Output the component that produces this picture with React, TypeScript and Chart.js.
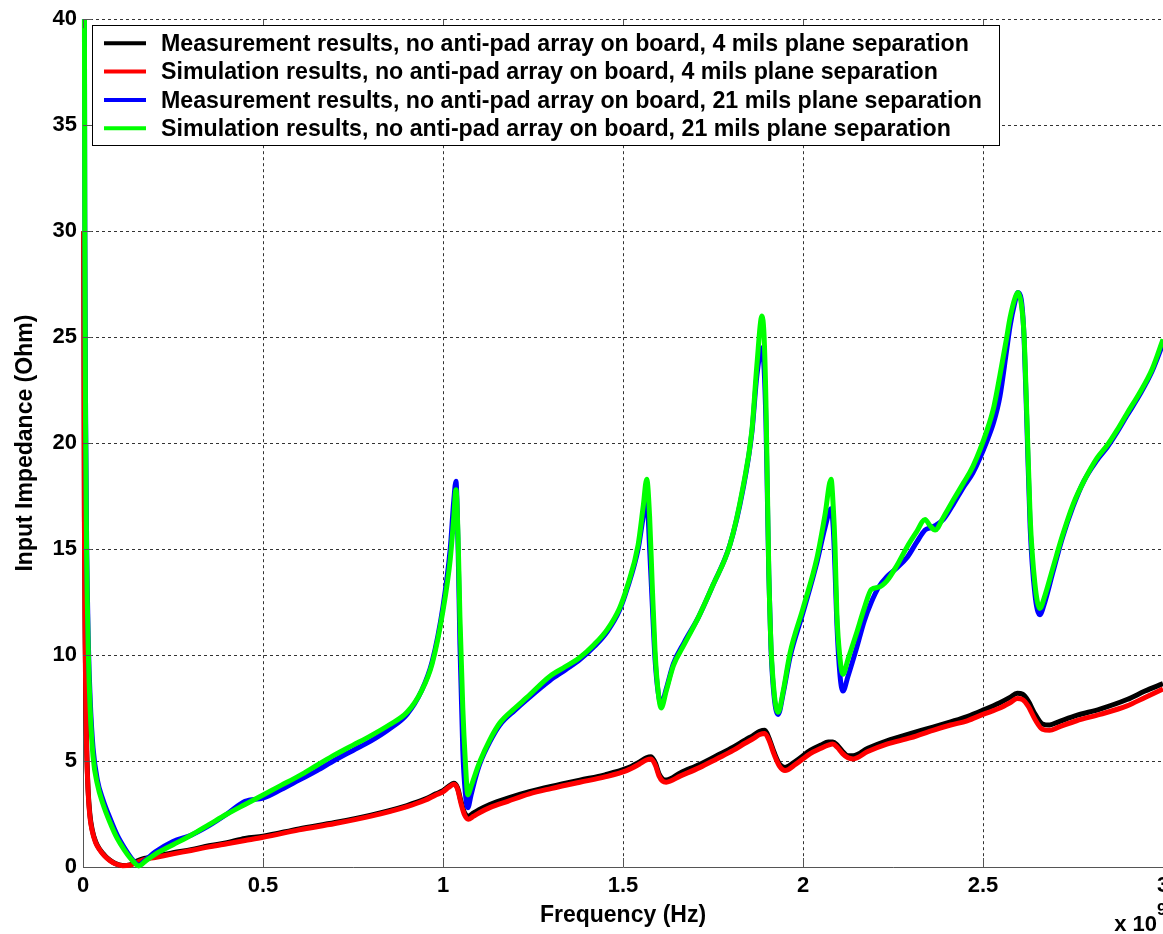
import React, { useEffect, useRef } from "react";
import { Chart, registerables } from "chart.js";

Chart.register(...registerables);

// Frequency samples (GHz) for the 4 mils plane-separation curves
const freq4mil = [
  0.002, 0.004, 0.006, 0.008, 0.01, 0.014, 0.019, 0.025, 0.035, 0.047, 0.06, 0.075, 0.09, 0.11, 0.13, 0.15,
  0.17, 0.2, 0.25, 0.3, 0.35, 0.4, 0.45, 0.5, 0.6, 0.7, 0.8, 0.9, 0.95, 0.98, 1.0, 1.015, 1.03, 1.04, 1.05,
  1.06, 1.07, 1.085, 1.1, 1.13, 1.18, 1.24, 1.3, 1.38, 1.45, 1.51, 1.545, 1.565, 1.578, 1.59, 1.6, 1.61, 1.62,
  1.66, 1.714, 1.76, 1.806, 1.84, 1.861, 1.88, 1.894, 1.905, 1.92, 1.935, 1.95, 1.98, 2.02, 2.05, 2.07, 2.083,
  2.095, 2.11, 2.125, 2.139, 2.18, 2.233, 2.3, 2.361, 2.41, 2.456, 2.5, 2.547, 2.575, 2.595, 2.61, 2.625,
  2.645, 2.665, 2.685, 2.71, 2.76, 2.825, 2.9, 2.95, 3.0,
];

// Measured input impedance (Ohm), 4 mils
const meas4mil = [
  30, 16.5, 11, 7.8, 5.8, 3.7, 2.5, 1.8, 1.2, 0.82, 0.55, 0.32, 0.16, 0.07, 0.1, 0.28,
  0.4, 0.5, 0.68, 0.82, 1.0, 1.15, 1.35, 1.45, 1.8, 2.1, 2.45, 2.9, 3.2, 3.45, 3.6, 3.8, 3.95, 3.75, 3.1,
  2.55, 2.4, 2.55, 2.7, 2.95, 3.25, 3.55, 3.8, 4.1, 4.35, 4.65, 4.95, 5.15, 5.2, 4.9, 4.4, 4.15, 4.1,
  4.45, 4.85, 5.25, 5.65, 6.0, 6.2, 6.4, 6.45, 6.1, 5.4, 4.85, 4.7, 5.0, 5.5, 5.75, 5.9, 5.9,
  5.75, 5.45, 5.25, 5.25, 5.6, 5.95, 6.3, 6.6, 6.85, 7.1, 7.4, 7.75, 8.0, 8.2, 8.15, 7.85,
  7.2, 6.75, 6.7, 6.85, 7.15, 7.45, 7.9, 8.3, 8.65,
];

// Simulated input impedance (Ohm), 4 mils
const sim4mil = [
  30, 16, 10.5, 7.5, 5.6, 3.6, 2.4, 1.75, 1.15, 0.8, 0.52, 0.3, 0.15, 0.06, 0.08, 0.22,
  0.35, 0.45, 0.62, 0.78, 0.95, 1.1, 1.25, 1.4, 1.75, 2.05, 2.4, 2.85, 3.15, 3.4, 3.55, 3.75, 3.9, 3.7, 3.0,
  2.45, 2.25, 2.4, 2.55, 2.8, 3.1, 3.45, 3.7, 4.0, 4.25, 4.55, 4.85, 5.05, 5.1, 4.8, 4.3, 4.05, 4.0,
  4.3, 4.7, 5.1, 5.5, 5.85, 6.05, 6.25, 6.3, 6.0, 5.3, 4.75, 4.55, 4.85, 5.35, 5.6, 5.75, 5.8,
  5.65, 5.35, 5.15, 5.1, 5.45, 5.8, 6.1, 6.45, 6.7, 6.9, 7.2, 7.5, 7.75, 7.95, 7.9, 7.6,
  6.95, 6.5, 6.45, 6.6, 6.9, 7.2, 7.6, 8.0, 8.4,
];

// Frequency samples (GHz) for the 21 mils plane-separation curves
const freq21mil = [
  0.003, 0.005, 0.007, 0.01, 0.015, 0.02, 0.028, 0.04, 0.055, 0.075, 0.095, 0.115, 0.135, 0.155, 0.175, 0.2,
  0.25, 0.3, 0.35, 0.4, 0.45, 0.5, 0.55, 0.6, 0.65, 0.7, 0.75, 0.8, 0.85, 0.9, 0.94, 0.97, 1.0, 1.02, 1.03,
  1.036, 1.042, 1.047, 1.055, 1.062, 1.069, 1.078, 1.09, 1.103, 1.13, 1.158, 1.2, 1.233, 1.297, 1.34, 1.381,
  1.42, 1.456, 1.49, 1.511, 1.542, 1.556, 1.566, 1.574, 1.581, 1.589, 1.598, 1.606, 1.62, 1.64, 1.67, 1.71,
  1.75, 1.797, 1.833, 1.858, 1.872, 1.886, 1.892, 1.897, 1.901, 1.905, 1.911, 1.92, 1.931, 1.945, 1.964, 2.0,
  2.039, 2.061, 2.078, 2.084, 2.089, 2.094, 2.103, 2.111, 2.125, 2.15, 2.17, 2.19, 2.21, 2.233, 2.26, 2.289,
  2.315, 2.339, 2.353, 2.367, 2.39, 2.417, 2.445, 2.472, 2.511, 2.53, 2.547, 2.565, 2.575, 2.588, 2.597,
  2.606, 2.614, 2.622, 2.631, 2.644, 2.658, 2.67, 2.694, 2.72, 2.75, 2.78, 2.817, 2.845, 2.872, 2.9, 2.936,
  2.97, 3.0,
];

// Measured input impedance (Ohm), 21 mils
const meas21mil = [
  50, 31, 22, 15.5, 10.5, 7.9, 5.6, 4.1, 3.2, 2.3, 1.5, 0.9, 0.4, 0.1, 0.35, 0.7,
  1.2, 1.5, 1.95, 2.5, 3.1, 3.25, 3.65, 4.1, 4.55, 5.05, 5.5, 5.95, 6.5, 7.2, 8.3, 9.7, 12.3, 15.0, 17.3,
  18.2, 15.0, 10.5, 5.5, 3.5, 2.8, 3.4, 4.2, 4.9, 5.9, 6.7, 7.4, 7.9, 8.8, 9.3, 9.8,
  10.4, 11.1, 12.1, 13.1, 15.0, 16.5, 17.4, 15.0, 12.5, 9.8, 8.2, 7.7, 8.4, 9.6, 10.6, 11.8,
  13.3, 15.2, 17.8, 20.5, 23.2, 24.5, 23.5, 21.0, 17.5, 13.8, 10.3, 8.0, 7.2, 8.2, 9.9, 12.0,
  14.4, 16.0, 16.9, 16.0, 14.0, 11.5, 9.0, 8.3, 9.0, 10.4, 11.6, 12.5, 13.2, 13.7, 14.1, 14.6,
  15.3, 15.9, 16.0, 16.1, 16.4, 17.1, 17.9, 18.6, 20.1, 21.0, 22.2, 24.3, 25.5, 26.6, 27.1,
  26.8, 25.0, 20.8, 16.0, 12.9, 11.9, 12.4, 13.9, 15.5, 17.0, 18.2, 19.2, 19.8, 20.5, 21.3, 22.3,
  23.4, 24.7,
];

// Simulated input impedance (Ohm), 21 mils
const sim21mil = [
  50, 30, 21, 14.8, 10, 7.4, 5.2, 3.9, 3.0, 2.1, 1.35, 0.8, 0.35, 0.05, 0.3, 0.6,
  1.05, 1.5, 2.0, 2.5, 2.95, 3.4, 3.85, 4.3, 4.8, 5.3, 5.75, 6.2, 6.7, 7.3, 8.3, 9.6, 12.1, 14.5, 16.5,
  17.8, 15.5, 11.8, 7.5, 5.0, 3.4, 3.8, 4.4, 5.0, 6.0, 6.8, 7.5, 8.0, 9.0, 9.45, 9.9,
  10.5, 11.2, 12.2, 13.2, 15.2, 17.0, 18.3, 16.5, 13.4, 10.2, 8.2, 7.5, 8.3, 9.5, 10.5, 11.8,
  13.3, 15.2, 17.9, 20.6, 23.7, 26.0, 25.0, 22.0, 18.0, 14.0, 10.5, 8.2, 7.3, 8.3, 10.1, 12.2,
  14.6, 16.6, 18.3, 17.0, 15.1, 12.0, 9.8, 9.1, 9.8, 11.1, 12.2, 13.1, 13.2, 13.5, 14.2, 15.1,
  15.8, 16.4, 16.1, 15.9, 16.5, 17.3, 18.1, 18.9, 20.6, 21.7, 23.2, 24.9, 25.9, 26.8, 27.1,
  26.6, 25.1, 21.2, 16.5, 13.4, 12.2, 12.7, 14.1, 15.6, 17.1, 18.2, 19.3, 19.9, 20.6, 21.4, 22.4,
  23.5, 24.9,
];

const seriesLabels = [
  "Measurement results, no anti-pad array on board, 4 mils plane separation",
  "Simulation results, no anti-pad array on board, 4 mils plane separation",
  "Measurement results, no anti-pad array on board, 21 mils plane separation",
  "Simulation results, no anti-pad array on board, 21 mils plane separation",
];
const seriesColors = ["#000000", "#ff0000", "#0000ff", "#00ff00"];

const xTickValues = [0, 0.5, 1, 1.5, 2, 2.5, 3];
const yTickValues = [0, 5, 10, 15, 20, 25, 30, 35, 40];

const FONT = '"Liberation Sans", Arial, Helvetica, sans-serif';

const toPoints = (xs: number[], ys: number[]) => xs.map((x, i) => ({ x, y: ys[i] }));

// MATLAB-style inward tick marks on the axes
const inwardTicks = {
  id: "inwardTicks",
  afterDatasetsDraw(chart: any) {
    const { ctx, chartArea, scales } = chart;
    ctx.save();
    ctx.strokeStyle = "#555";
    ctx.lineWidth = 1;
    ctx.beginPath();
    for (const v of xTickValues) {
      const px = Math.round(scales.x.getPixelForValue(v)) + 0.5;
      ctx.moveTo(px, chartArea.bottom);
      ctx.lineTo(px, chartArea.bottom - 9);
      ctx.moveTo(px, chartArea.top);
      ctx.lineTo(px, chartArea.top + 9);
    }
    for (const v of yTickValues) {
      const py = Math.round(scales.y.getPixelForValue(v)) + 0.5;
      ctx.moveTo(chartArea.left, py);
      ctx.lineTo(chartArea.left + 9, py);
    }
    ctx.stroke();
    ctx.restore();
  },
};

// Boxed legend inside the axes, plus the axis multiplier label
const boxedLegend = {
  id: "boxedLegend",
  afterDraw(chart: any) {
    const { ctx } = chart;
    const left = 92;
    const top = 25;
    const right = 1000;
    const bottom = 146;
    ctx.save();
    ctx.fillStyle = "#ffffff";
    ctx.fillRect(left, top, right - left, bottom - top);
    ctx.strokeStyle = "#000";
    ctx.lineWidth = 1;
    ctx.strokeRect(left + 0.5, top + 0.5, right - left - 1, bottom - top - 1);
    ctx.font = `bold 23.2px ${FONT}`;
    ctx.textBaseline = "alphabetic";
    ctx.textAlign = "left";
    seriesLabels.forEach((label, i) => {
      const baseline = 51 + i * 28.3;
      const ly = baseline - 7.7;
      ctx.strokeStyle = seriesColors[i];
      ctx.lineWidth = 4;
      ctx.beginPath();
      ctx.moveTo(104, ly);
      ctx.lineTo(146, ly);
      ctx.stroke();
      ctx.fillStyle = "#000";
      ctx.fillText(label, 161, baseline);
    });
    // "x 10^9" exponent label under the right end of the frequency axis
    ctx.fillStyle = "#000";
    ctx.textAlign = "right";
    ctx.font = `bold 22px ${FONT}`;
    ctx.fillText("x 10", 1157, 931);
    ctx.textAlign = "left";
    ctx.font = `bold 17px ${FONT}`;
    ctx.fillText("9", 1157, 915);
    ctx.restore();
  },
};

export default function App() {
  const canvasRef = useRef<HTMLCanvasElement | null>(null);

  useEffect(() => {
    const canvas = canvasRef.current;
    if (!canvas) return;
    const order = [3, 2, 1, 0];
    const sets = [
      toPoints(freq4mil, meas4mil),
      toPoints(freq4mil, sim4mil),
      toPoints(freq21mil, meas21mil),
      toPoints(freq21mil, sim21mil),
    ];
    const chart = new Chart(canvas, {
      type: "line",
      data: {
        datasets: sets.map((data, i) => ({
          label: seriesLabels[i],
          data,
          borderColor: seriesColors[i],
          backgroundColor: seriesColors[i],
          borderWidth: 5,
          pointRadius: 0,
          fill: false,
          cubicInterpolationMode: "monotone" as const,
          order: order[i],
          clip: { left: 2, top: 0, right: 0, bottom: 2 },
        })),
      },
      options: {
        animation: false,
        responsive: false,
        devicePixelRatio: 1,
        parsing: false as any,
        layout: { padding: { top: 17, right: 40, left: 0, bottom: 0 } },
        plugins: {
          legend: { display: false },
          tooltip: { enabled: false },
        },
        scales: {
          x: {
            type: "linear",
            min: 0,
            max: 3,
            afterBuildTicks: (scale: any) => {
              scale.ticks = xTickValues.map((v) => ({ value: v }));
            },
            afterFit: (scale: any) => {
              scale.height = 67;
            },
            ticks: {
              color: "#000",
              padding: 6,
              maxRotation: 0,
              autoSkip: false,
              callback: (value: any) => String(Number(value)),
              font: { family: FONT, size: 22, weight: "bold" },
            },
            grid: {
              color: "rgba(0,0,0,0.8)",
              lineWidth: 1,
              drawTicks: false,
            },
            border: { display: true, color: "#555", width: 1, dash: [3, 3] },
            title: {
              display: true,
              text: "Frequency (Hz)",
              color: "#000",
              font: { family: FONT, size: 23, weight: "bold" },
              padding: { top: 0, bottom: 5 },
            },
          },
          y: {
            type: "linear",
            min: 0,
            max: 40,
            afterBuildTicks: (scale: any) => {
              scale.ticks = yTickValues.map((v) => ({ value: v }));
            },
            afterFit: (scale: any) => {
              scale.width = 83;
            },
            ticks: {
              color: "#000",
              padding: 6,
              autoSkip: false,
              callback: (value: any) => String(Number(value)),
              font: { family: FONT, size: 22, weight: "bold" },
            },
            grid: {
              color: "rgba(0,0,0,0.8)",
              lineWidth: 1,
              drawTicks: false,
            },
            border: { display: true, color: "#555", width: 1, dash: [3, 3] },
            title: {
              display: true,
              text: "Input Impedance (Ohm)",
              color: "#000",
              font: { family: FONT, size: 23, weight: "bold" },
              padding: { top: 12, bottom: 0 },
            },
          },
        },
      },
      plugins: [inwardTicks, boxedLegend],
    });
    return () => chart.destroy();
  }, []);

  return (
    <div
      style={{
        position: "fixed",
        left: 0,
        top: 0,
        width: "100vw",
        height: "100vh",
        overflow: "hidden",
        background: "#ffffff",
      }}
    >
      <canvas
        ref={canvasRef}
        width={1203}
        height={934}
        style={{ position: "absolute", left: 0, top: 0, width: 1203, height: 934 }}
      />
    </div>
  );
}
